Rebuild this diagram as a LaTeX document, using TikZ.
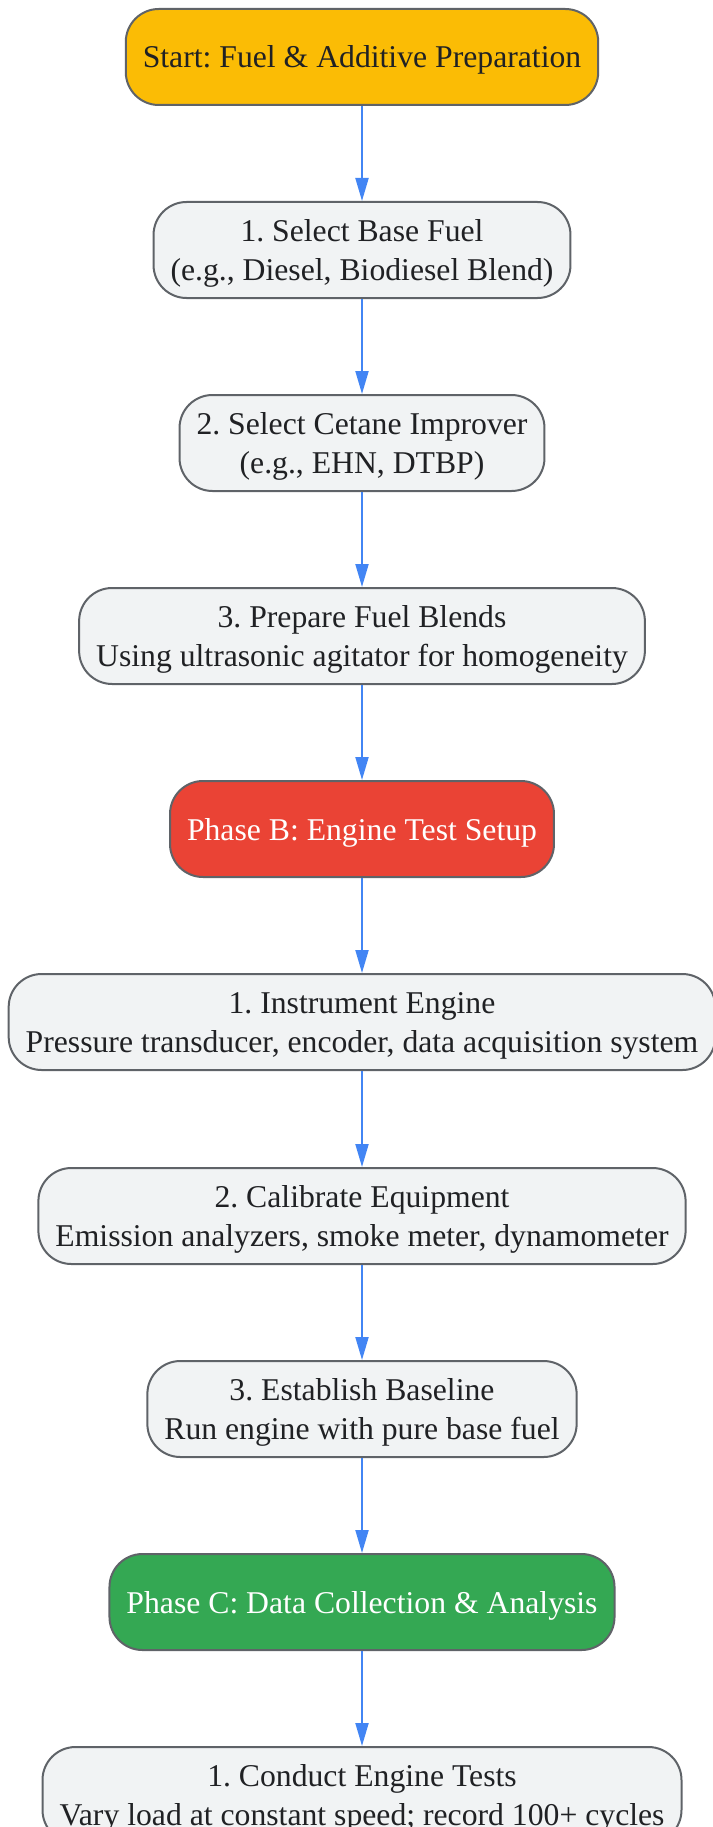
\documentclass[tikz,border=0pt]{standalone}
\usepackage{fontspec}
\setmainfont{Liberation Serif}
\usepackage{xcolor}
\usepackage{tikz}
\usetikzlibrary{arrows.meta}
\frenchspacing

\definecolor{startyellow}{HTML}{FBBC05}
\definecolor{phasered}{HTML}{EA4335}
\definecolor{phasegreen}{HTML}{34A853}
\definecolor{stepfill}{HTML}{F1F3F4}
\definecolor{edgegray}{HTML}{5F6368}
\definecolor{flowblue}{HTML}{4285F4}
\definecolor{inkdark}{HTML}{202124}

\begin{document}
\begin{tikzpicture}[x=1pt, y=1pt,
    box/.style={rectangle, rounded corners=33pt, draw=edgegray, line width=2pt,
        minimum height=96pt, inner xsep=17pt, align=center, text=inkdark,
        text depth=0pt, font=\fontsize{31.7}{39}\selectfont},
    stepbox/.style={box, fill=stepfill},
    phasebox/.style={box, text=white},
    flow/.style={flowblue, line width=2pt, -{Triangle[length=23pt, width=13pt]}}]

\useasboundingbox (0,0) rectangle (712,-1827);

% Phase A
\node[box, fill=startyellow] (start) at (362,-57) {Start: Fuel \& Additive Preparation};
\node[stepbox] (a1) at (362,-250) {1. Select Base Fuel\\(e.g., Diesel, Biodiesel Blend)};
\node[stepbox] (a2) at (362,-443) {2. Select Cetane Improver\\(e.g., EHN, DTBP)};
\node[stepbox] (a3) at (362,-636) {3. Prepare Fuel Blends\\Using ultrasonic agitator for homogeneity};

% Phase B
\node[phasebox, fill=phasered] (pb) at (362,-829) {Phase B: Engine Test Setup};
\node[stepbox] (b1) at (362,-1022) {1. Instrument Engine\\Pressure transducer, encoder, data acquisition system};
\node[stepbox] (b2) at (362,-1216) {2. Calibrate Equipment\\Emission analyzers, smoke meter, dynamometer};
\node[stepbox] (b3) at (362,-1409) {3. Establish Baseline\\Run engine with pure base fuel};

% Phase C
\node[phasebox, fill=phasegreen] (pc) at (362,-1602) {Phase C: Data Collection \& Analysis};
\node[stepbox] (c1) at (362,-1795) {1. Conduct Engine Tests\\Vary load at constant speed; record 100+ cycles};

\draw[flow] (start) -- (a1);
\draw[flow] (a1) -- (a2);
\draw[flow] (a2) -- (a3);
\draw[flow] (a3) -- (pb);
\draw[flow] (pb) -- (b1);
\draw[flow] (b1) -- (b2);
\draw[flow] (b2) -- (b3);
\draw[flow] (b3) -- (pc);
\draw[flow] (pc) -- (c1);
\end{tikzpicture}
\end{document}
